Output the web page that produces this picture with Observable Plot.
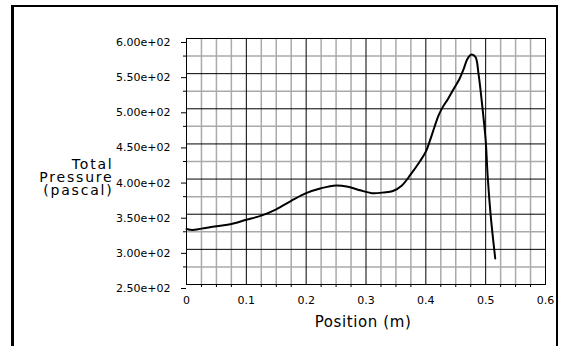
<!DOCTYPE html>
<html>
<head>
<meta charset="utf-8">
<script src="https://cdn.jsdelivr.net/npm/d3@7"></script>
<script src="https://cdn.jsdelivr.net/npm/@observablehq/plot@0.6"></script>
<style>
  html, body { margin: 0; padding: 0; background: #fff; }
  #chart { position: relative; width: 564px; height: 346px; overflow: hidden; }
  #chart svg { display: block; }
  #border {
    position: absolute; left: 11px; top: 5px; width: 547px; height: 341px;
    border-left: 3px solid #000; border-top: 2px solid #000; border-right: 2px solid #000;
    box-sizing: border-box; pointer-events: none;
  }
</style>
</head>
<body>
<div id="chart"><div id="border"></div></div>
<script>
// Total pressure profile along the position axis
const position = [0.000, 0.010, 0.025, 0.050, 0.075, 0.100, 0.125, 0.150, 0.175, 0.200,
  0.225, 0.250, 0.270, 0.290, 0.310, 0.330, 0.345, 0.360, 0.375, 0.390,
  0.400, 0.407, 0.414, 0.421, 0.428, 0.437, 0.447, 0.456, 0.463, 0.469,
  0.4755, 0.4828, 0.488, 0.4933, 0.500, 0.5033, 0.5084, 0.516];
const pressure = [329, 327.5, 329.5, 333, 336, 342, 348, 357, 369, 380,
  387, 391, 389, 384, 380, 381, 383, 391, 407, 425,
  439, 455, 473, 490, 502, 514, 529, 542, 556, 570,
  577, 574, 550, 512, 455, 405, 348, 287];

const xTicks = [0, 0.1, 0.2, 0.3, 0.4, 0.5, 0.6];
const yTicks = [250, 300, 350, 400, 450, 500, 550, 600];
const xLabel = "Position (m)";
const yLabelLines = ["Total", "Pressure", "(pascal)"];

const data = position.map((p, i) => ({position: p, pressure: pressure[i]}));

// minor grid: four divisions per 0.1 m, two per 50 Pa
const xMinor = d3.range(0, 24).map(i => i * 0.025).filter(v => !xTicks.some(t => Math.abs(t - v) < 1e-9));
const yMinor = d3.range(0, 7).map(i => 275 + i * 50);

const expFormat = v => v.toExponential(2).replace(/e([+-])(\d)$/, "e$10$2");

const plot = Plot.plot({
  width: 564,
  height: 346,
  marginLeft: 186,
  marginRight: 19,
  marginTop: 38,
  marginBottom: 62,
  style: {fontFamily: "'DejaVu Sans', sans-serif", fontSize: "11px", color: "#000", background: "#fff"},
  x: {domain: [0, 0.6]},
  y: {domain: [250, 600]},
  marks: [
    Plot.ruleX(xMinor, {stroke: "#aaa", strokeWidth: 1.5}),
    Plot.ruleY(yMinor, {stroke: "#aaa", strokeWidth: 1.5}),
    Plot.ruleX(xTicks, {stroke: "#000", strokeWidth: 1}),
    Plot.ruleY(yTicks, {stroke: "#000", strokeWidth: 1}),
    Plot.frame({stroke: "#000"}),
    Plot.axisY({ticks: yTicks, tickSize: 5, tickPadding: 11, tickFormat: expFormat, label: null, dy: 4}),
    Plot.axisY({ticks: yMinor, tickSize: 3, tickFormat: () => "", label: null}),
    Plot.axisX({ticks: xTicks, tickSize: 0, tickPadding: 12, tickFormat: d => String(d), label: null}),
    Plot.axisX({ticks: xMinor, tickSize: 3, tickFormat: () => "", label: null}),
    Plot.line(data, {x: "position", y: "pressure", stroke: "#000", strokeWidth: 2, curve: "catmull-rom"}),
    Plot.text([xLabel], {frameAnchor: "bottom", lineAnchor: "bottom", dy: 42, dx: -3,
      fontSize: 15, fill: "#000"}),
    ...yLabelLines.map((line, i) => Plot.text([line], {
      frameAnchor: "left", textAnchor: "end", lineAnchor: "bottom",
      dx: -73, dy: [7, 20, 33][i], fontSize: 14, fill: "#000"
    }))
  ]
});

document.getElementById("chart").prepend(plot);
// widen the axis-title lettering
plot.querySelectorAll("g[aria-label='text'] text").forEach(t => {
  if (yLabelLines.includes(t.textContent)) t.style.letterSpacing = "1.8px";
  if (t.textContent === xLabel) t.style.letterSpacing = "0.6px";
});
</script>
</body>
</html>
